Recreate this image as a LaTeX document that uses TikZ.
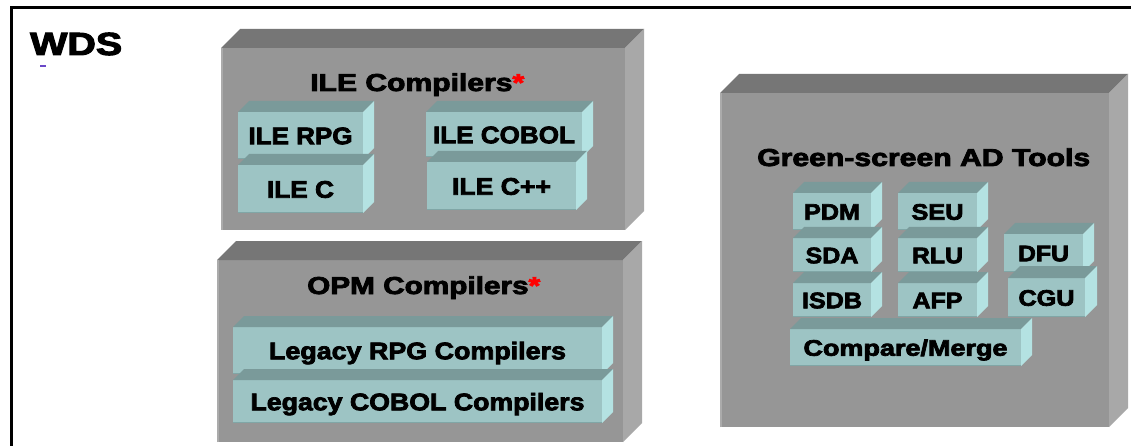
\documentclass[tikz,border=0pt]{standalone}
\usepackage{fontspec}
\setmainfont{Liberation Sans}[BoldFeatures={FakeBold=3}]
\usepackage{graphicx}
\definecolor{gfront}{HTML}{969696}
\definecolor{gtop}{HTML}{767676}
\definecolor{gside}{HTML}{A8A8A8}
\definecolor{gedge}{HTML}{ABABAB}
\definecolor{tfront}{HTML}{9DC4C4}
\definecolor{ttop}{HTML}{7A9A9A}
\definecolor{tside}{HTML}{B4E2E2}
\definecolor{tedge}{HTML}{80A6A6}
\definecolor{cursor}{HTML}{6A48C8}
\newcommand{\sw}[2]{\resizebox{#1pt}{\height}{#2}}
\tikzset{
  bigfront/.style={fill=gfront, inner sep=0pt, outer sep=0pt},
  bigtop/.style={fill=gtop},
  bigside/.style={fill=gside},
  tealfront/.style={fill=tfront, inner sep=0pt, outer sep=0pt,
    font=\fontsize{24}{26}\selectfont\bfseries, text height=17.5pt, text depth=0pt},
  smallteal/.style={tealfront, font=\fontsize{22.5}{25}\selectfont\bfseries, text height=16.5pt},
  tealtop/.style={fill=ttop},
  tealside/.style={fill=tside},
  title/.style={anchor=base west, inner sep=0pt, font=\fontsize{24.5}{28}\selectfont\bfseries},
}
% big 3D box: name, x1, y1, x2, y2, depth
\newcommand{\bigcube}[6]{%
  \node[bigfront, minimum width={#4-#2}, minimum height={#5-#3}] (#1) at ({(#2+#4)/2},{(#3+#5)/2}) {};
  \fill[bigtop] (#1.north west) -- ++(#6,-#6) -- ([shift={(#6,-#6)}]#1.north east) -- (#1.north east) -- cycle;
  \fill[bigside] (#1.north east) -- ([shift={(#6,-#6)}]#1.north east) -- ([shift={(#6,-#6)}]#1.south east) -- (#1.south east) -- cycle;
  \draw[gedge, line width=2pt] ([xshift=1pt]#1.south west) -- ([xshift=1pt]#1.north west);
}
% teal 3D box: style, name, x1, y1, x2, y2, depth, text
\newcommand{\tealcube}[8]{%
  \node[#1, minimum width={#5-#3}, minimum height={#6-#4}] (#2) at ({(#3+#5)/2},{(#4+#6)/2}) {#8};
  \fill[tealtop] (#2.north west) -- ++(#7,-#7) -- ([shift={(#7,-#7)}]#2.north east) -- (#2.north east) -- cycle;
  \fill[tealside] (#2.north east) -- ([shift={(#7,-#7)}]#2.north east) -- ([shift={(#7,-#7)}]#2.south east) -- (#2.south east) -- cycle;
  \draw[tedge, line width=1pt] ([yshift=0.5pt]#2.south west) -- ([yshift=0.5pt]#2.south east);
}
\begin{document}
\begin{tikzpicture}[x=1pt,y=-1pt]
\useasboundingbox (0,0) rectangle (1131,446);
\clip (0,0) rectangle (1131,446);
\fill[white] (0,0) rectangle (1131,446);
% outer frame (continues beyond the picture)
\draw[line width=2.6pt] (11.5,460) -- (11.5,7.3) -- (1145,7.3);
\node[title, font=\fontsize{32}{36}\selectfont\bfseries] (wds) at (30,55) {\sw{92}{WDS}};
\fill[cursor] (40,65) rectangle (46,67.5);

% ILE compilers
\bigcube{ile}{221}{48}{625}{230}{19}
\node[title] (iletitle) at (310,91) {\sw{214}{ILE Compilers\textcolor{red}{*}}};
\tealcube{tealfront}{ilerpg}{238}{112}{363}{159}{11}{\sw{104}{ILE RPG}}
\tealcube{tealfront}{ilecobol}{426}{112}{582}{157}{11}{\sw{142}{ILE COBOL}}
\tealcube{tealfront}{ilec}{238}{165}{363}{213}{11}{\sw{67}{ILE C}}
\tealcube{tealfront}{ilecpp}{427}{162}{576}{210}{11}{\sw{99}{ILE C++}}

% OPM compilers
\bigcube{opm}{217}{260}{623}{442}{19}
\node[title] (opmtitle) at (307,294) {\sw{233}{OPM Compilers\textcolor{red}{*}}};
\tealcube{tealfront}{legrpg}{233}{327}{602}{374}{11}{\sw{297}{Legacy RPG Compilers}}
\tealcube{tealfront}{legcobol}{233}{380}{602}{423}{11}{\sw{334}{Legacy COBOL Compilers}}

% Green-screen AD tools
\bigcube{gs}{720}{93}{1109}{427}{19}
\node[title] (gstitle) at (757,166) {\sw{333}{Green-screen AD Tools}};
\tealcube{smallteal}{pdm}{793}{193}{871}{230}{11}{\sw{56}{PDM}}
\tealcube{smallteal}{seu}{898}{193}{977}{230}{11}{\sw{52}{SEU}}
\tealcube{smallteal}{dfu}{1004}{234}{1083}{272}{11}{\sw{51}{DFU}}
\tealcube{smallteal}{sda}{793}{238}{871}{272}{11}{\sw{53}{SDA}}
\tealcube{smallteal}{rlu}{898}{238}{977}{272}{11}{\sw{51}{RLU}}
\tealcube{smallteal}{cgu}{1008}{278}{1085}{317}{12}{\sw{56}{CGU}}
\tealcube{smallteal}{isdb}{793}{283}{871}{317}{11}{\sw{60}{ISDB}}
\tealcube{smallteal}{afp}{898}{283}{977}{317}{11}{\sw{50}{AFP}}
\tealcube{smallteal}{cm}{790}{329}{1021}{366}{11}{\sw{204}{Compare/Merge}}
\end{tikzpicture}
\end{document}
